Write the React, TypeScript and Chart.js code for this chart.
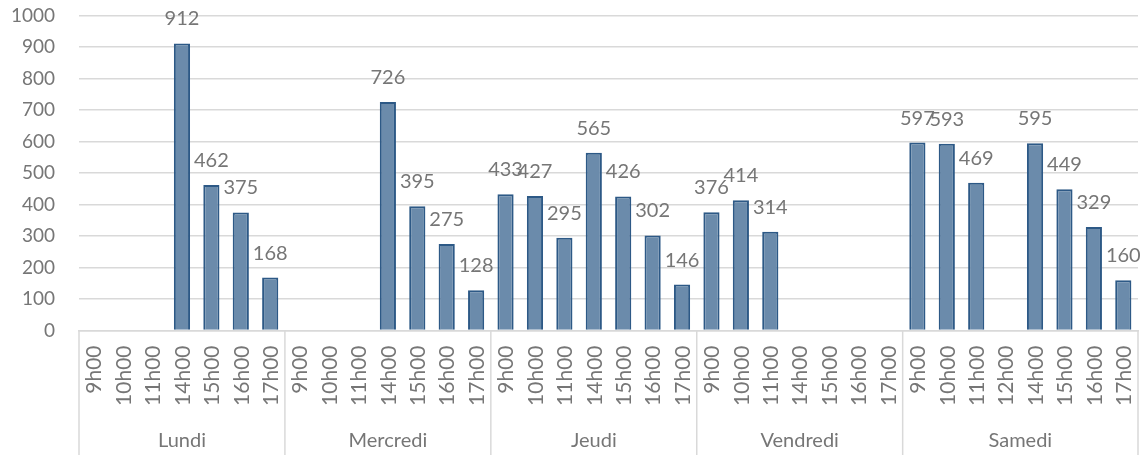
import React, { useEffect, useRef } from "react";
import { Chart, registerables } from "chart.js";

Chart.register(...registerables);

// ---- Data ----
const days = ["Lundi", "Mercredi", "Jeudi", "Vendredi", "Samedi"];
const lundiHours = ["9h00", "10h00", "11h00", "14h00", "15h00", "16h00", "17h00"];
const mercrediHours = ["9h00", "10h00", "11h00", "14h00", "15h00", "16h00", "17h00"];
const jeudiHours = ["9h00", "10h00", "11h00", "14h00", "15h00", "16h00", "17h00"];
const vendrediHours = ["9h00", "10h00", "11h00", "14h00", "15h00", "16h00", "17h00"];
const samediHours = ["9h00", "10h00", "11h00", "12h00", "14h00", "15h00", "16h00", "17h00"];

const lundiValues = [null, null, null, 912, 462, 375, 168];
const mercrediValues = [null, null, null, 726, 395, 275, 128];
const jeudiValues = [433, 427, 295, 565, 426, 302, 146];
const vendrediValues = [376, 414, 314, null, null, null, null];
const samediValues = [597, 593, 469, null, 595, 449, 329, 160];

const yTicks = [0, 100, 200, 300, 400, 500, 600, 700, 800, 900, 1000];

// ---- Derived ----
const hourGroups = [lundiHours, mercrediHours, jeudiHours, vendrediHours, samediHours];
const valueGroups = [lundiValues, mercrediValues, jeudiValues, vendrediValues, samediValues];
const hourLabels: string[] = hourGroups.flat();
const values: (number | null)[] = valueGroups.flat();
const groupSpans: { name: string; start: number; end: number }[] = [];
{
  let s = 0;
  hourGroups.forEach((g, i) => {
    groupSpans.push({ name: days[i], start: s, end: s + g.length - 1 });
    s += g.length;
  });
}

const TEXT = "#767676";
const GRID = "#d9d9d9";
const FONT = "Lato, 'Open Sans', sans-serif";

const multiAxisPlugin = {
  id: "multiAxis",
  afterDraw(chart: any) {
    const { ctx, chartArea, scales } = chart;
    const xs = scales.x;
    const bottom = chartArea.bottom;
    const half = (xs.getPixelForValue(1) - xs.getPixelForValue(0)) / 2;
    ctx.save();
    // hour labels, rotated
    ctx.fillStyle = TEXT;
    ctx.font = `21px ${FONT}`;
    ctx.textAlign = "right";
    ctx.textBaseline = "middle";
    hourLabels.forEach((lab, i) => {
      const px = xs.getPixelForValue(i);
      ctx.save();
      ctx.translate(px + 1, bottom + 15);
      ctx.rotate(-Math.PI / 2);
      ctx.fillText(lab, 0, 0);
      ctx.restore();
    });
    // separators
    ctx.strokeStyle = GRID;
    ctx.lineWidth = 1.5;
    const bounds: number[] = [];
    groupSpans.forEach((g, i) => {
      if (i === 0) bounds.push(xs.getPixelForValue(g.start) - half);
      bounds.push(xs.getPixelForValue(g.end) + half);
    });
    bounds.forEach((bx) => {
      ctx.beginPath();
      ctx.moveTo(bx, bottom);
      ctx.lineTo(bx, 455);
      ctx.stroke();
    });
    // group labels
    ctx.textAlign = "center";
    ctx.textBaseline = "alphabetic";
    ctx.font = `20px ${FONT}`;
    groupSpans.forEach((g) => {
      const cx = (xs.getPixelForValue(g.start) + xs.getPixelForValue(g.end)) / 2;
      ctx.fillText(g.name, cx, 447);
    });
    ctx.restore();
  },
};

const dataLabelPlugin = {
  id: "dataLabels",
  afterDatasetsDraw(chart: any) {
    const { ctx } = chart;
    const meta = chart.getDatasetMeta(0);
    ctx.save();
    ctx.fillStyle = TEXT;
    ctx.font = `20px ${FONT}`;
    ctx.textAlign = "center";
    ctx.textBaseline = "alphabetic";
    meta.data.forEach((el: any, i: number) => {
      const v = values[i];
      if (v === null || v === undefined) return;
      ctx.fillText(String(v), el.x, el.y - 18);
    });
    ctx.restore();
  },
};

export default function App() {
  const ref = useRef<HTMLCanvasElement>(null);
  useEffect(() => {
    if (!ref.current) return;
    const chart = new Chart(ref.current, {
      type: "bar",
      data: {
        labels: hourLabels,
        datasets: [
          {
            data: values as any,
            backgroundColor: "#6B8BAB",
            borderColor: "#2D5986",
            borderWidth: 2,
            categoryPercentage: 1,
            barPercentage: 0.55,
          },
        ],
      },
      options: {
        animation: false,
        responsive: false,
        devicePixelRatio: 1,
        layout: { padding: { top: 15.7, right: 7, left: 0, bottom: 0 } },
        plugins: { legend: { display: false }, tooltip: { enabled: false } },
        scales: {
          x: {
            ticks: { display: false },
            grid: { display: false, drawTicks: false },
            border: { display: true, color: GRID, width: 1.5 },
            afterFit: (s: any) => {
              s.height = 465 - 330.5;
            },
          },
          y: {
            min: 0,
            max: 1000,
            afterBuildTicks: (s: any) => {
              s.ticks = yTicks.map((v) => ({ value: v }));
            },
            ticks: {
              color: TEXT,
              font: { size: 19, family: FONT },
              padding: 24,
              callback: (v: any) => String(v),
            },
            grid: { color: GRID, lineWidth: 1.5, drawTicks: false },
            border: { display: false },
            afterFit: (s: any) => {
              s.width = 79;
              s.paddingTop = 0;
              s.paddingBottom = 0;
            },
          },
        },
      },
      plugins: [dataLabelPlugin, multiAxisPlugin],
    });
    return () => chart.destroy();
  }, []);
  return (
    <div style={{ position: "fixed", left: 0, top: 0, width: 1145, height: 465, background: "#fff" }}>
      <canvas ref={ref} width={1145} height={465} style={{ width: 1145, height: 465 }} />
    </div>
  );
}
